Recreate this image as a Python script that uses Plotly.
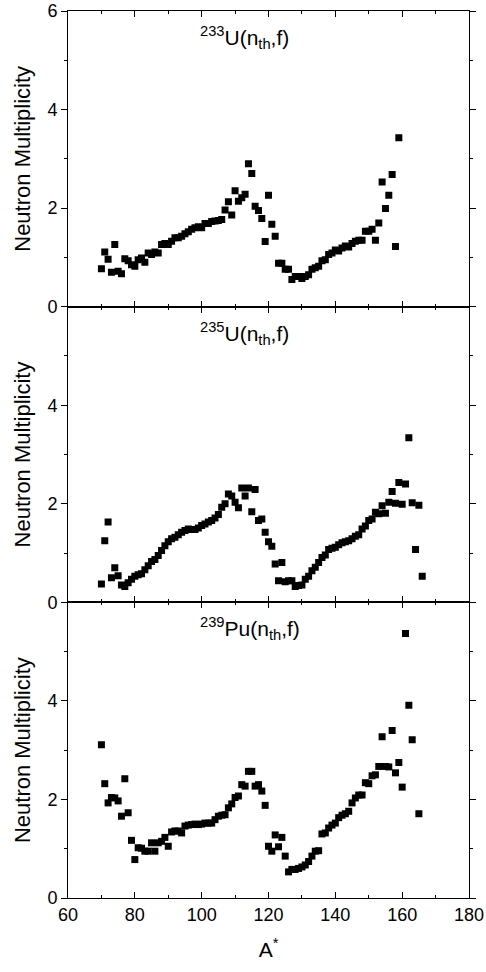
import plotly.graph_objects as go
from plotly.subplots import make_subplots

# mass numbers and neutron multiplicities
a_u233 = list(range(70, 160))
nu_u233 = [
    0.77, 1.11, 0.96, 0.70, 1.26, 0.72, 0.67, 0.97, 0.93, 0.85,
    0.82, 0.95, 0.99, 0.90, 1.09, 1.06, 1.11, 1.09, 1.26, 1.28,
    1.26, 1.33, 1.40, 1.40, 1.43, 1.48, 1.52, 1.57, 1.60, 1.62,
    1.60, 1.69, 1.69, 1.73, 1.74, 1.75, 1.77, 1.96, 2.13, 1.86,
    2.35, 2.14, 2.21, 2.28, 2.90, 2.70, 2.04, 1.95, 1.79, 1.32,
    2.26, 1.67, 1.43, 0.88, 0.88, 0.76, 0.76, 0.55, 0.61, 0.61,
    0.57, 0.61, 0.65, 0.76, 0.79, 0.82, 0.93, 0.95, 1.06, 1.09,
    1.15, 1.13, 1.19, 1.23, 1.21, 1.28, 1.33, 1.35, 1.35, 1.53,
    1.53, 1.57, 1.35, 1.70, 2.53, 1.99, 2.26, 2.68, 1.22, 3.43,
]

a_u235 = list(range(70, 167))
nu_u235 = [
    0.37, 1.25, 1.63, 0.50, 0.70, 0.54, 0.35, 0.32, 0.40, 0.47,
    0.53, 0.56, 0.58, 0.66, 0.74, 0.83, 0.87, 0.95, 1.05, 1.15,
    1.23, 1.29, 1.32, 1.37, 1.42, 1.46, 1.49, 1.48, 1.48, 1.51,
    1.56, 1.59, 1.63, 1.66, 1.71, 1.78, 1.93, 2.00, 2.20, 2.16,
    2.03, 1.92, 2.32, 2.16, 2.32, 1.84, 2.29, 1.66, 1.69, 1.42,
    1.23, 1.14, 0.78, 0.44, 0.81, 0.42, 0.44, 0.44, 0.32, 0.34,
    0.35, 0.47, 0.53, 0.64, 0.71, 0.81, 0.91, 0.96, 1.07, 1.10,
    1.12, 1.17, 1.21, 1.23, 1.25, 1.29, 1.34, 1.37, 1.49, 1.55,
    1.66, 1.69, 1.83, 1.80, 1.96, 1.81, 2.03, 2.25, 2.01, 2.43,
    1.99, 2.40, 3.34, 2.02, 1.07, 1.97, 0.53,
]

a_pu239 = list(range(70, 164)) + [165]
nu_pu239 = [
    3.11, 2.32, 1.93, 2.04, 2.03, 1.97, 1.66, 2.42, 1.73, 1.17,
    0.78, 1.02, 1.01, 0.95, 0.95, 1.12, 0.95, 1.12, 1.15, 1.23,
    1.05, 1.34, 1.36, 1.36, 1.32, 1.46, 1.48, 1.49, 1.50, 1.49,
    1.50, 1.52, 1.52, 1.52, 1.59, 1.66, 1.68, 1.69, 1.83, 1.91,
    2.04, 2.07, 2.30, 2.27, 2.57, 2.57, 2.27, 2.30, 2.17, 1.88,
    1.05, 0.95, 1.28, 1.04, 1.23, 0.85, 0.53, 0.58, 0.58, 0.60,
    0.63, 0.67, 0.74, 0.85, 0.95, 0.96, 1.30, 1.32, 1.42, 1.48,
    1.52, 1.63, 1.68, 1.71, 1.76, 1.93, 2.03, 2.09, 2.09, 2.34,
    2.32, 2.48, 2.50, 2.67, 3.27, 2.67, 2.66, 3.40, 2.54, 2.75,
    2.25, 5.37, 3.91, 3.21,
    1.71,
]

panels = [
    ("<sup>233</sup>U(n<sub>th</sub>,f)", a_u233, nu_u233),
    ("<sup>235</sup>U(n<sub>th</sub>,f)", a_u235, nu_u235),
    ("<sup>239</sup>Pu(n<sub>th</sub>,f)", a_pu239, nu_pu239),
]

FONT = "Liberation Sans, Arial, sans-serif"

fig = make_subplots(rows=3, cols=1, shared_xaxes=True, vertical_spacing=0)

for i, (label, a, nu) in enumerate(panels, start=1):
    fig.add_trace(
        go.Scatter(
            x=a,
            y=nu,
            mode="markers",
            marker=dict(symbol="square", size=7, color="black"),
            showlegend=False,
        ),
        row=i,
        col=1,
    )
    fig.add_annotation(
        text=label,
        xref=f"x{i if i > 1 else ''} domain",
        yref=f"y{i if i > 1 else ''} domain",
        x=0.325,
        y=0.91,
        xanchor="left",
        yanchor="middle",
        showarrow=False,
        font=dict(family=FONT, size=21, color="black"),
    )
    fig.update_yaxes(
        range=[0, 6],
        tickvals=[0, 2, 4, 6] if i == 1 else [0, 2, 4],
        ticks="outside",
        ticklen=6,
        minor=dict(dtick=1, ticks="outside", ticklen=3, tickcolor="black"),
        title=dict(text="Neutron Multiplicity", font=dict(family=FONT, size=22), standoff=10),
        row=i,
        col=1,
    )

fig.update_xaxes(
    range=[60, 180],
    dtick=20,
    ticks="inside",
    ticklen=6,
    minor=dict(dtick=10, ticks="inside", ticklen=3, tickcolor="black"),
    showline=True,
    linecolor="black",
    linewidth=1,
    mirror="ticks",
    showgrid=False,
    zeroline=False,
    automargin=False,
    tickcolor="black",
    ticklabeloverflow="allow",
    tickfont=dict(family=FONT, size=18, color="black"),
)
fig.update_yaxes(
    showline=True,
    linecolor="black",
    linewidth=1,
    mirror="ticks",
    showgrid=False,
    zeroline=False,
    automargin=False,
    tickcolor="black",
    ticklabeloverflow="allow",
    tickfont=dict(family=FONT, size=18, color="black"),
)
fig.update_xaxes(
    title=dict(text="A<sup>*</sup>", font=dict(family=FONT, size=21), standoff=18),
    row=3,
    col=1,
)

fig.update_layout(
    width=486,
    height=972,
    margin=dict(l=68, r=17, t=11, b=74),
    plot_bgcolor="white",
    paper_bgcolor="white",
    font=dict(family=FONT, color="black"),
)

# drop the browser's default 8px body margin so the figure sits at the page origin
fig.write_html(
    "out.html",
    config={"displayModeBar": False},
    post_script="document.body.style.margin = '0';",
)
